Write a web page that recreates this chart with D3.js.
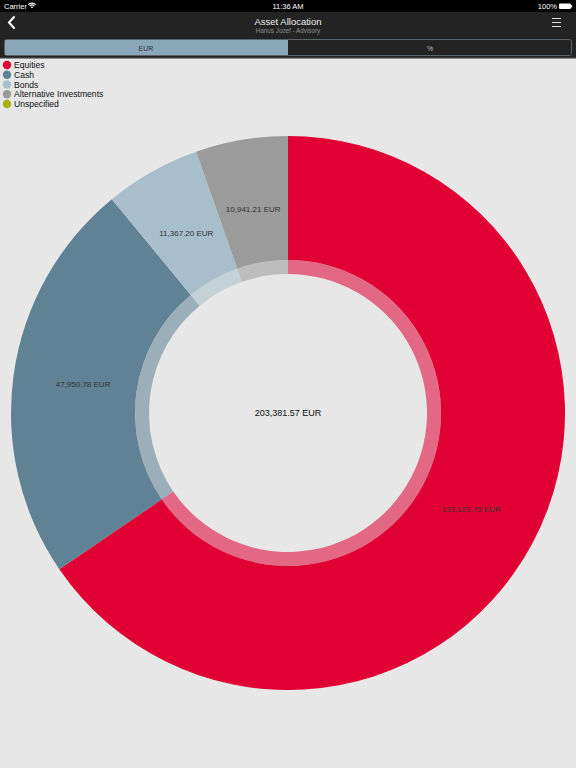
<!DOCTYPE html>
<html>
<head>
<meta charset="utf-8">
<script src="https://cdn.jsdelivr.net/npm/d3@7"></script>
<style>
  body { margin:0; background:#e6e7e6; font-family:"Liberation Sans", Arial, sans-serif; }
  svg { display:block; }
</style>
</head>
<body>
<div id="chart"></div>
<script>
// chart data
var categories = ["Equities", "Cash", "Bonds", "Alternative Investments", "Unspecified"];
var amounts = [133123.75, 47950.78, 11367.20, 10941.21, 0];
var colors = ["#e00034", "#5f8294", "#a8bfcb", "#9b9b9b", "#a5b300"];
var totalLabel = "203,381.57 EUR";

var width = 576, height = 768;

var svg = d3.select("#chart").append("svg")
  .attr("width", width)
  .attr("height", height);

svg.append("rect").attr("width", width).attr("height", height).attr("fill", "#e6e7e6");

// --- top bars (status + navigation) ---
svg.append("rect").attr("width", width).attr("height", 12).attr("fill", "#000");
svg.append("rect").attr("y", 12).attr("width", width).attr("height", 46).attr("fill", "#232323");
svg.append("rect").attr("y", 57).attr("width", width).attr("height", 1.5).attr("fill", "#3a3a3a");

svg.append("text").attr("x", 4).attr("y", 9).attr("fill", "#fff")
  .style("font-size", "7.5px").text("Carrier");
// wifi glyph
var wifi = svg.append("g").attr("transform", "translate(32,8.5)");
[6, 4, 2].forEach(function(r) {
  wifi.append("path")
    .attr("d", d3.arc()({innerRadius: r - 1.2, outerRadius: r, startAngle: -Math.PI / 4, endAngle: Math.PI / 4}))
    .attr("fill", "#fff");
});
svg.append("text").attr("x", 288).attr("y", 9).attr("text-anchor", "middle").attr("fill", "#fff")
  .style("font-size", "7.5px").text("11:36 AM");
svg.append("text").attr("x", 557).attr("y", 9).attr("text-anchor", "end").attr("fill", "#fff")
  .style("font-size", "7.5px").text("100%");
svg.append("rect").attr("x", 559).attr("y", 3.5).attr("width", 12).attr("height", 5.5).attr("rx", 1).attr("fill", "#fff");
svg.append("rect").attr("x", 571).attr("y", 5).attr("width", 1.2).attr("height", 2.5).attr("fill", "#fff");

// back chevron
svg.append("path").attr("d", "M14,17 L9,22.5 L14,28")
  .attr("fill", "none").attr("stroke", "#fff").attr("stroke-width", 2).attr("stroke-linecap", "round");
svg.append("text").attr("x", 288).attr("y", 25).attr("text-anchor", "middle").attr("fill", "#eee")
  .style("font-size", "9.5px").text("Asset Allocation");
svg.append("text").attr("x", 288).attr("y", 32.5).attr("text-anchor", "middle").attr("fill", "#8e8e8e")
  .style("font-size", "6.3px").text("Hanus Jozef - Advisory");
// menu icon
[18, 22, 26].forEach(function(y) {
  svg.append("rect").attr("x", 552).attr("y", y).attr("width", 9).attr("height", 1).attr("fill", "#ddd");
});

// segmented control
svg.append("rect").attr("x", 4.5).attr("y", 39.5).attr("width", 567).attr("height", 16)
  .attr("rx", 2).attr("fill", "#232323").attr("stroke", "#5c6369");
svg.append("rect").attr("x", 5).attr("y", 40).attr("width", 283).attr("height", 15).attr("fill", "#8aa6b9");
svg.append("text").attr("x", 146).attr("y", 50.5).attr("text-anchor", "middle").attr("fill", "#333")
  .style("font-size", "7px").text("EUR");
svg.append("text").attr("x", 430).attr("y", 50.5).attr("text-anchor", "middle").attr("fill", "#bbb")
  .style("font-size", "7px").text("%");

// --- legend ---
var legendY = d3.scalePoint().domain(categories).range([65, 104]);
var legend = svg.append("g").selectAll("g").data(categories).enter().append("g")
  .attr("transform", function(d) { return "translate(0," + legendY(d) + ")"; });
legend.append("circle").attr("cx", 7).attr("cy", 0).attr("r", 4.2)
  .attr("fill", function(d, i) { return colors[i]; });
legend.append("text").attr("x", 14).attr("y", 3.2).attr("fill", "#111")
  .style("font-size", "8.6px").text(function(d) { return d; });

// --- donut ---
var cx = 288, cy = 413;
var data = categories.map(function(c, i) { return {name: c, value: amounts[i], color: colors[i]}; })
  .filter(function(d) { return d.value > 0; });
var pie = d3.pie().sort(null).value(function(d) { return d.value; });
var arcs = pie(data);

var g = svg.append("g").attr("transform", "translate(" + cx + "," + cy + ")");
var outerArc = d3.arc().innerRadius(153).outerRadius(277);
var innerArc = d3.arc().innerRadius(139).outerRadius(153);
var labelArc = d3.arc().innerRadius(207).outerRadius(207);

g.selectAll("path.outer").data(arcs).enter().append("path")
  .attr("class", "outer").attr("d", outerArc).attr("fill", function(d) { return d.data.color; });
g.selectAll("path.inner").data(arcs).enter().append("path")
  .attr("class", "inner").attr("d", innerArc).attr("fill", function(d) { return d.data.color; })
  .attr("fill-opacity", 0.55);

var fmt = d3.format(",.2f");
g.selectAll("text.lbl").data(arcs).enter().append("text")
  .attr("class", "lbl")
  .attr("transform", function(d) { return "translate(" + labelArc.centroid(d) + ")"; })
  .attr("text-anchor", "middle").attr("dy", "0.35em")
  .attr("fill", "#333").style("font-size", "8px")
  .text(function(d) { return fmt(d.data.value) + " EUR"; });

g.append("text").attr("text-anchor", "middle").attr("dy", "0.35em")
  .attr("fill", "#111").style("font-size", "9px").text(totalLabel);
</script>
</body>
</html>
